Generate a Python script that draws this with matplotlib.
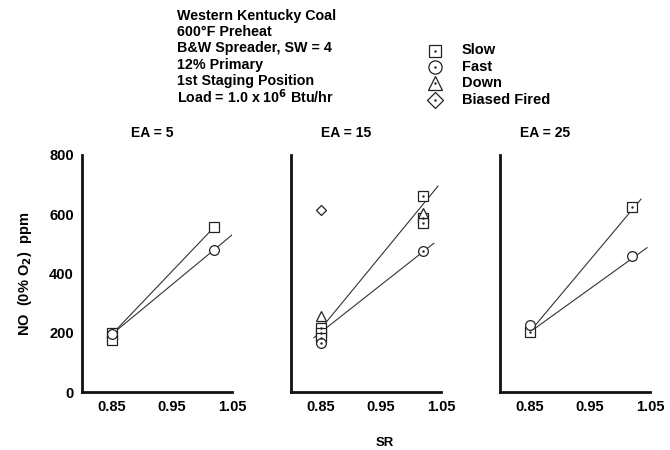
import matplotlib
matplotlib.use("Agg")
import matplotlib.pyplot as plt

plt.rcParams['font.family'] = ['Liberation Sans', 'DejaVu Sans']
plt.rcParams['font.weight'] = 'bold'
plt.rcParams['mathtext.default'] = 'bf'

# ---- data (SR vs NO ppm) ----
panel_titles = ["EA = 5", "EA = 15", "EA = 25"]
x_ticks = [0.85, 0.95, 1.05]
x_tick_labels = ["0.85", "0.95", "1.05"]
y_ticks = [0, 200, 400, 600, 800]
y_tick_labels = ["0", "200", "400", "600", "800"]

# EA = 5
ea5_slow_sr = [0.85, 0.85, 1.02]
ea5_slow_no = [200, 175, 556]
ea5_fast_sr = [0.85, 1.02]
ea5_fast_no = [195, 478]
ea5_slow_fit_sr = [0.85, 1.02]
ea5_slow_fit_no = [195, 556]
ea5_fast_fit_sr = [0.85, 1.05]
ea5_fast_fit_no = [195, 530]

# EA = 15
ea15_slow_sr = [0.85, 0.85, 0.85, 1.02, 1.02, 1.02]
ea15_slow_no = [217, 200, 183, 661, 588, 572]
ea15_fast_sr = [0.85, 1.02]
ea15_fast_no = [166, 475]
ea15_down_sr = [0.85, 1.02]
ea15_down_no = [258, 603]
ea15_biased_sr = [0.85]
ea15_biased_no = [613]
ea15_slow_fit_sr = [0.858, 1.045]
ea15_slow_fit_no = [234, 695]
ea15_fast_fit_sr = [0.838, 1.038]
ea15_fast_fit_no = [183, 502]

# EA = 25
ea25_slow_sr = [0.85, 1.02]
ea25_slow_no = [203, 624]
ea25_fast_sr = [0.85, 1.02]
ea25_fast_no = [227, 458]
ea25_slow_fit_sr = [0.85, 1.035]
ea25_slow_fit_no = [204, 651]
ea25_fast_fit_sr = [0.855, 1.045]
ea25_fast_fit_no = [210, 487]

header_lines = ["Western Kentucky Coal", "600°F Preheat", "B&W Spreader, SW = 4",
                "12% Primary", "1st Staging Position", "Load = 1.0 x 10$^6$ Btu/hr"]
legend_labels = ["Slow", "Fast", "Down", "Biased Fired"]

# ---- figure ----
W, H = 670, 450
fig = plt.figure(figsize=(6.7, 4.5), dpi=100)
fig.patch.set_facecolor("white")

def fx(px):
    return px / W

def fy(py):
    return 1 - py / H

bottom = fy(392)
height = (392 - 155) / H
lefts = [82, 291, 500]
width = 150 / W

styles = {
    "slow": dict(marker="s", ms=6.5),
    "fast": dict(marker="o", ms=7),
    "down": dict(marker="^", ms=7.5),
    "biased": dict(marker="D", ms=5.5),
}
leg_styles = {
    "slow": dict(marker="s", ms=8.5),
    "fast": dict(marker="o", ms=9.5),
    "down": dict(marker="^", ms=10),
    "biased": dict(marker="D", ms=8),
}

def draw_pts(ax, sr, no, kind, dot=True):
    ax.plot(sr, no, linestyle="none", mfc="white", mec="#222222", mew=0.9,
            zorder=3, **styles[kind])
    if dot:
        ax.plot(sr, no, linestyle="none", marker=".", ms=1.5, color="#222222", zorder=4)

def draw_fit(ax, sr, no):
    ax.plot(sr, no, color="#333333", lw=0.8, zorder=2)

axes = []
for i, l in enumerate(lefts):
    ax = fig.add_axes([fx(l), bottom, width, height])
    ax.set_xlim(0.80, 1.05)
    ax.set_ylim(0, 800)
    for s in ["top", "right"]:
        ax.spines[s].set_visible(False)
    for s in ["left", "bottom"]:
        ax.spines[s].set_linewidth(2)
        ax.spines[s].set_color("#111111")
    ax.set_xticks(x_ticks)
    ax.set_xticklabels(x_tick_labels, fontsize=10.5, fontweight="bold")
    ax.set_yticks(y_ticks)
    if i == 0:
        ax.set_yticklabels(y_tick_labels, fontsize=10.5, fontweight="bold")
    else:
        ax.set_yticklabels([])
    ax.tick_params(length=0, pad=6)
    axes.append(ax)

ax1, ax2, ax3 = axes

draw_fit(ax1, ea5_slow_fit_sr, ea5_slow_fit_no)
draw_fit(ax1, ea5_fast_fit_sr, ea5_fast_fit_no)
draw_pts(ax1, ea5_slow_sr, ea5_slow_no, "slow", dot=False)
draw_pts(ax1, ea5_fast_sr, ea5_fast_no, "fast", dot=False)

draw_fit(ax2, ea15_slow_fit_sr, ea15_slow_fit_no)
draw_fit(ax2, ea15_fast_fit_sr, ea15_fast_fit_no)
draw_pts(ax2, ea15_slow_sr, ea15_slow_no, "slow")
draw_pts(ax2, ea15_fast_sr, ea15_fast_no, "fast")
draw_pts(ax2, ea15_down_sr, ea15_down_no, "down", dot=False)
draw_pts(ax2, ea15_biased_sr, ea15_biased_no, "biased", dot=False)

draw_fit(ax3, ea25_slow_fit_sr, ea25_slow_fit_no)
draw_fit(ax3, ea25_fast_fit_sr, ea25_fast_fit_no)
draw_pts(ax3, ea25_slow_sr, ea25_slow_no, "slow")
draw_pts(ax3, ea25_fast_sr, ea25_fast_no, "fast", dot=False)

# panel titles
title_x = [152, 346, 545]
for t, x in zip(panel_titles, title_x):
    fig.text(fx(x), fy(133), t, ha="center", va="center", fontsize=10, fontweight="bold")

# axis labels
fig.text(fx(25), fy(274), "NO  (0% O$_2$)  ppm", rotation=90, ha="center", va="center",
         fontsize=10.5, fontweight="bold")
fig.text(fx(385), fy(443), "SR", ha="center", va="center", fontsize=9.5, fontweight="bold")

# header block
for k, line in enumerate(header_lines):
    fig.text(fx(177), fy(16 + k * 16.2), line, ha="left", va="center",
             fontsize=10.3, fontweight="bold")

# legend
leg_kinds = ["slow", "fast", "down", "biased"]
leg_y = [50.5, 66.7, 83, 99.5]
for kind, lab, y in zip(leg_kinds, legend_labels, leg_y):
    fig.lines.append(plt.Line2D([fx(435)], [fy(y)], transform=fig.transFigure,
                                linestyle="none", mfc="white", mec="#222222", mew=0.9,
                                **leg_styles[kind]))
    fig.lines.append(plt.Line2D([fx(435)], [fy(y)], transform=fig.transFigure,
                                linestyle="none", marker=".", ms=1.5, color="#222222"))
    fig.text(fx(462), fy(y), lab, ha="left", va="center", fontsize=10.5, fontweight="bold")

fig.savefig("out.png", dpi=100, facecolor="white")
